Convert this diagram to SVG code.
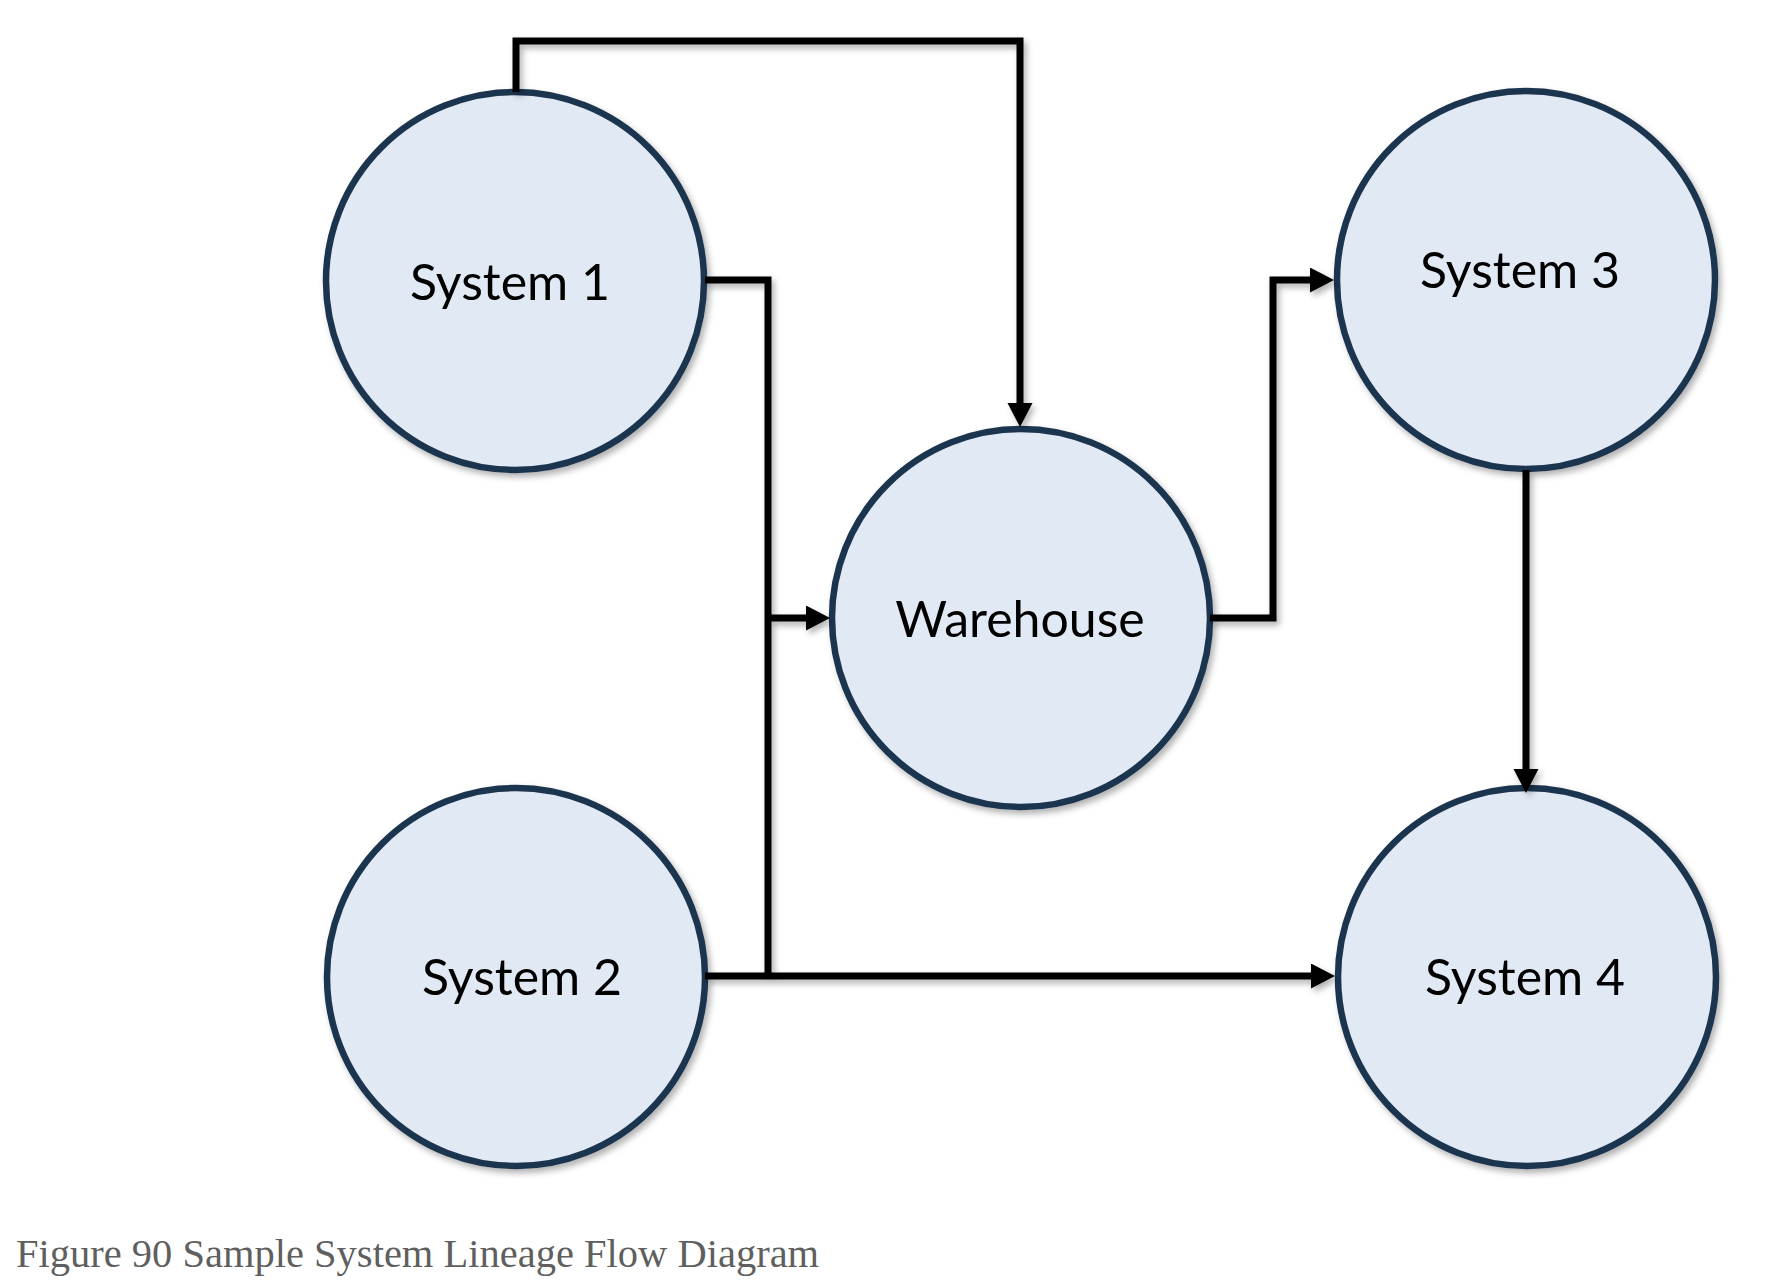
<svg xmlns="http://www.w3.org/2000/svg" width="1778" height="1286" viewBox="0 0 1778 1286">
  <style>
    .node circle { fill: #e1e9f5; stroke: #1d3450; stroke-width: 6.5; filter: url(#shadow); }
    .node text { font-family: "Lato", "Open Sans", "DejaVu Sans", sans-serif; font-size: 50px; fill: #000; text-anchor: middle; }
    .conn path { fill: none; stroke: #000; stroke-width: 7; stroke-linejoin: miter; stroke-linecap: butt; }
    .caption { font-family: "Liberation Serif", "Times New Roman", serif; font-size: 40.5px; fill: #5f5f5f; }
  </style>
  <defs>
    <filter id="shadow" x="-20%" y="-20%" width="140%" height="140%">
      <feDropShadow dx="3" dy="4" stdDeviation="3" flood-color="#000" flood-opacity="0.3"/>
    </filter>
    <marker id="arrow" markerUnits="userSpaceOnUse" markerWidth="26" markerHeight="26" refX="0" refY="12.5" orient="auto">
      <path d="M0,0 L24,12.5 L0,25 z" fill="#000"/>
    </marker>
  </defs>
  <rect width="1778" height="1286" fill="#fff"/>

  <g id="system1" class="node">
    <circle cx="515" cy="281" r="189"/>
    <text x="510" y="300">System 1</text>
  </g>
  <g id="warehouse" class="node">
    <circle cx="1021" cy="618" r="189"/>
    <text x="1020" y="637">Warehouse</text>
  </g>
  <g id="system3" class="node">
    <circle cx="1526" cy="280" r="189"/>
    <text x="1520" y="288">System 3</text>
  </g>
  <g id="system2" class="node">
    <circle cx="516" cy="977" r="189"/>
    <text x="522" y="995">System 2</text>
  </g>
  <g id="system4" class="node">
    <circle cx="1527" cy="977" r="189"/>
    <text x="1525" y="995">System 4</text>
  </g>

  <g id="connectors" class="conn" filter="url(#shadow)">
    <path d="M516,92 V41 H1020 V403" marker-end="url(#arrow)"/>
    <path d="M705,280 H768 V976"/>
    <path d="M768,618 H806" marker-end="url(#arrow)"/>
    <path d="M705,976 H1311" marker-end="url(#arrow)"/>
    <path d="M1210,618 H1273 V280 H1310" marker-end="url(#arrow)"/>
    <path d="M1526,470 V769" marker-end="url(#arrow)"/>
  </g>

  <text class="caption" x="16" y="1267">Figure 90 Sample System Lineage Flow Diagram</text>
</svg>
